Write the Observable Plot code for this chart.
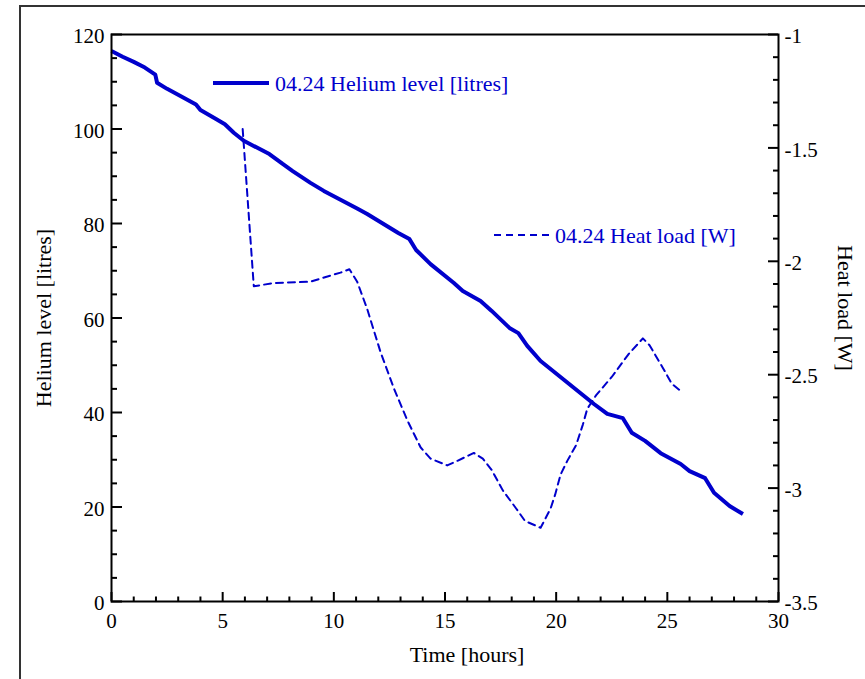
<!DOCTYPE html>
<html><head><meta charset="utf-8">
<script src="https://cdn.jsdelivr.net/npm/d3@7"></script>
<script src="https://cdn.jsdelivr.net/npm/@observablehq/plot@0.6"></script>
<style>
html,body{margin:0;padding:0;background:#fff;overflow:hidden;width:865px;height:679px}
#wrap{position:relative;width:865px;height:679px;overflow:hidden}
#border{position:absolute;left:19px;top:5px;width:900px;height:800px;border:2px solid #333;pointer-events:none}
#chart{position:absolute;left:0;top:0}
</style></head><body><div id="wrap"><div id="chart"></div><div id="border"></div></div>
<script>
// Helium level (litres) vs time (hours)
const heliumHours = [0,0.5,1.0,1.5,1.97,2.05,2.5,3.1,3.8,4.0,4.7,5.1,5.5,5.95,7.1,7.7,8.15,8.95,9.55,11.07,11.5,12.9,13.4,13.7,14.35,15.4,15.8,16.6,17.1,17.9,18.3,18.7,19.3,21.7,22.3,23.0,23.4,24.0,24.7,25.6,26.0,26.7,27.1,27.8,28.4];
const heliumLitres = [116.5,115.3,114.2,113.0,111.5,109.8,108.5,107.0,105.2,104.0,102.1,101.0,99.2,97.5,94.7,92.6,91.1,88.6,86.9,83.1,82.0,78.0,76.7,74.4,71.4,67.4,65.7,63.6,61.5,57.9,56.8,54.1,50.9,41.8,39.7,38.8,35.7,34.0,31.4,29.1,27.6,26.1,23.0,20.2,18.5];
// Heat load (W) vs time (hours)
const heatHours = [5.9,6.4,7.3,8.95,9.6,10.3,10.7,11.05,11.5,12.1,12.7,13.3,13.9,14.35,15.1,15.55,16.3,16.7,17.1,17.6,18.2,18.6,19.3,19.75,19.95,20.2,20.5,20.9,21.2,21.4,21.8,22.5,23.25,23.9,24.2,24.8,25.2,25.7];
const heatWatts = [-1.417,-2.11,-2.096,-2.09,-2.07,-2.05,-2.035,-2.09,-2.21,-2.40,-2.56,-2.70,-2.82,-2.87,-2.90,-2.88,-2.845,-2.87,-2.92,-3.01,-3.09,-3.145,-3.175,-3.09,-3.03,-2.94,-2.88,-2.81,-2.72,-2.65,-2.59,-2.51,-2.41,-2.34,-2.37,-2.47,-2.54,-2.58];
// Ticks
const xTicks = [0,5,10,15,20,25,30];
const xMinorTicks = d3.range(0,31).filter(v => v % 5 !== 0);
const leftTicks = [0,20,40,60,80,100,120];
const leftMinorTicks = d3.range(0,121,5).filter(v => v % 20 !== 0);
const rightTicks = [-1,-1.5,-2,-2.5,-3,-3.5];
const rightMinorTicks = d3.range(-35,-9).map(v => v/10).filter(v => Math.abs(v*2 - Math.round(v*2)) > 1e-9);
const seriesNames = ["04.24 Helium level [litres]","04.24 Heat load [W]"];

const BLUE = "#0000cc";
// right axis (W) mapped onto the left scale: -3.5 W -> 0, -1 W -> 120
const wToY = w => (w + 3.5) * 48;

const helium = heliumHours.map((h,i) => ({h, v: heliumLitres[i]}));
const heat = heatHours.map((h,i) => ({h, v: wToY(heatWatts[i])}));

const W = 865, H = 679, ML = 111, MR = 87, MT = 34, MB = 78;
const PW = W - ML - MR, PH = H - MT - MB;
const FONT = "'Liberation Serif','Times New Roman',serif";

const plot = Plot.plot({
  width: W, height: H,
  marginLeft: ML, marginRight: MR, marginTop: MT, marginBottom: MB,
  x: {domain: [0,30], axis: null},
  y: {domain: [0,120], axis: null},
  style: {fontFamily: FONT, fontSize: "21px", color: "#000", background: "transparent", overflow: "visible"},
  marks: [
    // ticks (inward)
    Plot.ruleY(leftTicks, {y: d => d, insetRight: PW - 11, strokeWidth: 2, stroke: "#000"}),
    Plot.ruleY(leftMinorTicks, {y: d => d, insetRight: PW - 6, strokeWidth: 2, stroke: "#000"}),
    Plot.ruleY(rightTicks, {y: d => wToY(d), insetLeft: PW - 10, strokeWidth: 2, stroke: "#000"}),
    Plot.ruleY(rightMinorTicks, {y: d => wToY(d), insetLeft: PW - 5, strokeWidth: 2, stroke: "#000"}),
    Plot.ruleX(xTicks, {x: d => d, insetTop: PH - 9, strokeWidth: 2, stroke: "#000"}),
    Plot.ruleX(xMinorTicks, {x: d => d, insetTop: PH - 4.5, strokeWidth: 2, stroke: "#000"}),
    // tick labels
    Plot.text(leftTicks, {y: d => d, text: d => String(d), frameAnchor: "left", textAnchor: "end", dx: -7, dy: 2, fill: "#000"}),
    Plot.text(rightTicks, {y: d => wToY(d), text: d => String(d), frameAnchor: "right", textAnchor: "start", dx: 6, dy: 2, fill: "#000"}),
    Plot.text(xTicks, {x: d => d, text: d => String(d), frameAnchor: "bottom", lineAnchor: "top", dy: 12, fill: "#000"}),
    // axis titles
    Plot.text(["Helium level [litres]"], {text: d => d, frameAnchor: "left", textAnchor: "middle", rotate: -90, dx: -68, fontSize: 22, fill: "#000"}),
    Plot.text(["Heat load [W]"], {text: d => d, frameAnchor: "right", textAnchor: "middle", rotate: 90, dx: 67, dy: -10, fontSize: 22, fill: "#000"}),
    Plot.text(["Time [hours]"], {text: d => d, frameAnchor: "bottom", textAnchor: "middle", dx: 22, dy: 60, fontSize: 22, fill: "#000"}),
    // data
    Plot.line(heat, {x: "h", y: "v", stroke: BLUE, strokeWidth: 2, strokeDasharray: "7,5"}),
    Plot.line(helium, {x: "h", y: "v", stroke: BLUE, strokeWidth: 4, strokeLinejoin: "round", strokeLinecap: "butt"}),
    Plot.frame({stroke: "#000", strokeWidth: 2})
  ]
});
document.getElementById("chart").appendChild(plot);

// legend
const svg = d3.select(plot);
const leg = svg.append("g").attr("font-family", FONT).attr("font-size", 22).attr("fill", BLUE).attr("text-anchor", "start");
leg.append("line").attr("x1", 213).attr("x2", 269).attr("y1", 83).attr("y2", 83).attr("stroke", BLUE).attr("stroke-width", 4);
leg.append("text").attr("x", 275).attr("y", 91).attr("text-anchor", "start").text(seriesNames[0]);
leg.append("line").attr("x1", 494).attr("x2", 550).attr("y1", 235).attr("y2", 235).attr("stroke", BLUE).attr("stroke-width", 2).attr("stroke-dasharray", "7,5");
leg.append("text").attr("x", 555).attr("y", 243).attr("text-anchor", "start").text(seriesNames[1]);
</script>
</body></html>
